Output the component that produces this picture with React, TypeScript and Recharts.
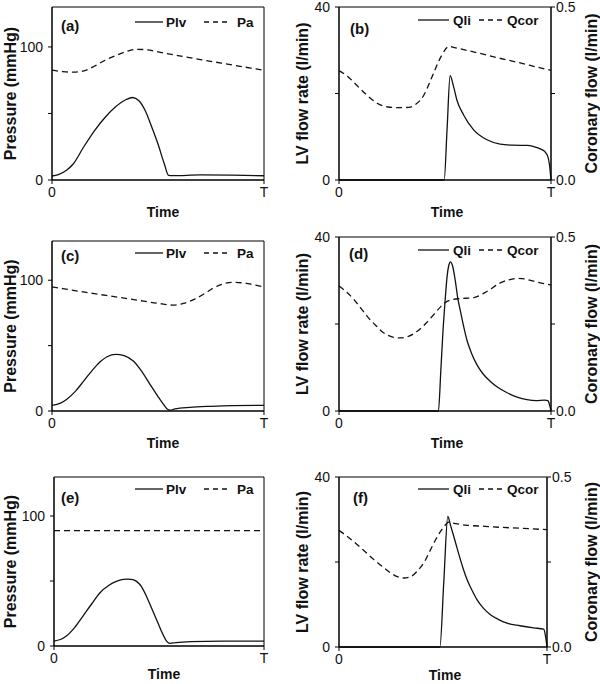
import { LineChart, Line, XAxis, YAxis, Legend, ReferenceArea } from "recharts";

type Pt = [number, number];

// time is normalised: 0 .. T (=1)
const X_TICKS = [0, 1];
const P_TICKS = [0, 50, 100];
const QLI_TICKS = [0, 20, 40];
const QCOR_TICKS = [0, 0.25, 0.5];

// (a)
const PLV_A: Pt[] = [[0, 3], [0.03, 4], [0.07, 7.5], [0.1, 12], [0.15, 25], [0.2, 37], [0.25, 47], [0.3, 55], [0.35, 60.5], [0.38, 62], [0.41, 59.5], [0.44, 52], [0.47, 40], [0.5, 27], [0.53, 12], [0.55, 3.5], [0.57, 3.3], [0.7, 3.8], [0.85, 3.6], [1, 3.2]];
const PA_A: Pt[] = [[0, 82.5], [0.05, 81.5], [0.1, 81], [0.15, 82], [0.2, 85.5], [0.25, 90], [0.3, 93.5], [0.35, 96.5], [0.4, 98.2], [0.45, 97.8], [0.5, 96.3], [0.6, 93.3], [0.7, 90.5], [0.8, 87.8], [0.9, 85.1], [1, 82.4]];

// (b)
const QLI_B: Pt[] = [[0, 0], [0.496, 0], [0.51, 12], [0.524, 24.1], [0.54, 21.7], [0.556, 18.5], [0.587, 15.1], [0.635, 11.6], [0.698, 9.3], [0.76, 8.3], [0.82, 8.05], [0.887, 8], [0.92, 7.7], [0.95, 7.2], [0.97, 6.6], [0.985, 5.4], [0.993, 3.5], [1, 0]];
const QCOR_B: Pt[] = [[0, 0.316], [0.04, 0.3], [0.08, 0.276], [0.13, 0.246], [0.18, 0.222], [0.23, 0.211], [0.28, 0.209], [0.33, 0.21], [0.36, 0.218], [0.4, 0.245], [0.44, 0.3], [0.48, 0.355], [0.52, 0.386], [0.55, 0.382], [0.65, 0.368], [0.75, 0.353], [0.85, 0.339], [0.95, 0.324], [1, 0.317]];

// (c)
const PLV_C: Pt[] = [[0, 4.3], [0.04, 6], [0.07, 9], [0.11, 15], [0.15, 23], [0.2, 33], [0.23, 38], [0.26, 41.5], [0.3, 43.3], [0.34, 42.3], [0.385, 38], [0.42, 31], [0.46, 21], [0.5, 11], [0.526, 5], [0.545, 1.3], [0.556, 0.6], [0.58, 1.6], [0.65, 2.8], [0.75, 3.6], [0.85, 4.1], [1, 4.3]];
const PA_C: Pt[] = [[0, 94.9], [0.1, 92.3], [0.2, 89.7], [0.3, 87.3], [0.4, 84.8], [0.5, 82.3], [0.57, 81], [0.62, 82.3], [0.67, 85.3], [0.72, 89.8], [0.76, 94], [0.8, 96.8], [0.85, 98.4], [0.9, 98], [0.95, 96.6], [1, 94.9]];

// (d)
const QLI_D: Pt[] = [[0, 0], [0.469, 0], [0.48, 9], [0.49, 18], [0.5, 25], [0.51, 31], [0.518, 33.5], [0.526, 34.3], [0.535, 33.5], [0.549, 29.8], [0.56, 26], [0.573, 22.9], [0.59, 19], [0.604, 16.2], [0.625, 13.3], [0.651, 10.6], [0.68, 8.5], [0.714, 6.8], [0.75, 5.4], [0.793, 4.2], [0.84, 3.2], [0.887, 2.6], [0.93, 2.4], [0.97, 2.5], [0.985, 2.4], [0.993, 1.5], [1, 0]];
const QCOR_D: Pt[] = [[0, 0.359], [0.035, 0.342], [0.071, 0.32], [0.1, 0.298], [0.133, 0.272], [0.17, 0.248], [0.212, 0.224], [0.25, 0.213], [0.29, 0.21], [0.33, 0.215], [0.369, 0.229], [0.41, 0.252], [0.447, 0.277], [0.48, 0.3], [0.51, 0.315], [0.54, 0.321], [0.573, 0.323], [0.636, 0.326], [0.699, 0.344], [0.761, 0.368], [0.8, 0.377], [0.84, 0.381], [0.88, 0.379], [0.918, 0.373], [0.96, 0.367], [1, 0.362]];

// (e)
const PLV_E: Pt[] = [[0, 3.8], [0.03, 5], [0.059, 7.7], [0.1, 14.5], [0.138, 23], [0.18, 32.5], [0.218, 40.8], [0.26, 46.5], [0.297, 49.7], [0.33, 51.2], [0.353, 51.5], [0.375, 51], [0.393, 49.7], [0.415, 46], [0.44, 38.3], [0.465, 29], [0.488, 20.4], [0.51, 12], [0.536, 3.8], [0.552, 2], [0.58, 2.6], [0.65, 3.4], [0.8, 3.8], [1, 3.8]];
const PA_E: Pt[] = [[0, 88.8], [1, 88.8]];

// (f)
const QLI_F: Pt[] = [[0, 0], [0.485, 0], [0.504, 15.5], [0.523, 30.7], [0.537, 28.5], [0.552, 26], [0.568, 23.2], [0.584, 20.5], [0.6, 18], [0.616, 15.8], [0.64, 13.3], [0.664, 11.1], [0.695, 9.1], [0.728, 7.6], [0.77, 6.4], [0.808, 5.6], [0.87, 5], [0.936, 4.5], [0.984, 4.2], [0.993, 2.5], [1, 0]];
const QCOR_F: Pt[] = [[0, 0.343], [0.04, 0.325], [0.088, 0.301], [0.13, 0.278], [0.168, 0.257], [0.21, 0.236], [0.248, 0.218], [0.28, 0.207], [0.312, 0.203], [0.345, 0.207], [0.376, 0.223], [0.41, 0.25], [0.44, 0.286], [0.465, 0.316], [0.488, 0.34], [0.51, 0.358], [0.528, 0.367], [0.56, 0.363], [0.616, 0.358], [0.7, 0.355], [0.776, 0.352], [0.88, 0.349], [1, 0.345]];

const FONT = "'Liberation Sans', Arial, Helvetica, sans-serif";
const INK = "#111";
const DASH = "6 4";

const rows = (pts: Pt[]) => pts.map(([t, v]) => ({ t, v }));

const tickStyle = { fontSize: 14, fill: INK, fontFamily: FONT };
const axisTitle = { fontSize: 16, fontWeight: 700, fill: INK, fontFamily: FONT, textAnchor: "middle" as const };

const fmtX = (v: number) => (v === 0 ? "0" : "T");

type Key = {
  tag: string;
  tagX: number;
  tagY: number;
  keyY: number;
  solid: [number, number, number]; // line x1, x2, text x
  dashed: [number, number, number];
  names: [string, string];
};

function keyContent(k: Key, w: number) {
  return () => (
    <svg width={w} height={60} style={{ display: "block", fontFamily: FONT }}>
      <text x={k.tagX} y={k.tagY + 5.5} fontSize={15} fontWeight={700} fill={INK}>
        {k.tag}
      </text>
      <line x1={k.solid[0]} x2={k.solid[1]} y1={k.keyY} y2={k.keyY} stroke={INK} strokeWidth={1.3} />
      <text x={k.solid[2]} y={k.keyY + 5} fontSize={13.5} fontWeight={700} fill={INK}>
        {k.names[0]}
      </text>
      <line x1={k.dashed[0]} x2={k.dashed[1]} y1={k.keyY} y2={k.keyY} stroke={INK} strokeWidth={1.3} strokeDasharray="5 4" />
      <text x={k.dashed[2]} y={k.keyY + 5} fontSize={13.5} fontWeight={700} fill={INK}>
        {k.names[1]}
      </text>
    </svg>
  );
}

type PressureProps = {
  top: number;
  mTop: number;
  mBottom: number;
  xh: number;
  yw: number;
  plv: Pt[];
  pa: Pt[];
  k: Key;
};

function PressurePanel({ top, mTop, mBottom, xh, yw, plv, pa, k }: PressureProps) {
  const W = 270;
  return (
    <div style={{ position: "absolute", left: 0, top, width: W, height: 228 }}>
      <LineChart width={W} height={228} margin={{ top: mTop, right: 6, bottom: mBottom, left: 0 }}>
        <XAxis
          dataKey="t"
          type="number"
          domain={[0, 1]}
          ticks={X_TICKS}
          tickFormatter={fmtX}
          height={xh}
          tickSize={4}
          tickMargin={3}
          tick={tickStyle}
          stroke="#000"
          label={{ value: "Time", position: "insideBottom", offset: 0, dx: 5, style: { ...axisTitle, fontSize: 14 } }}
        />
        <YAxis
          type="number"
          domain={[0, 130]}
          ticks={P_TICKS}
          interval={0}
          width={yw}
          tickSize={4}
          tickMargin={5}
          tick={tickStyle}
          stroke="#000"
          tickFormatter={(v: number) => (v === 50 ? "" : String(v))}
          label={{ value: "Pressure (mmHg)", angle: -90, position: "insideLeft", offset: 10, style: axisTitle }}
        />
        <ReferenceArea x1={0} x2={1} y1={0} y2={130} fill="none" stroke="#000" strokeWidth={1} />
        <Line data={rows(pa)} dataKey="v" type="monotone" stroke={INK} strokeWidth={1.3} strokeDasharray={DASH} dot={false} isAnimationActive={false} />
        <Line data={rows(plv)} dataKey="v" type="monotone" stroke={INK} strokeWidth={1.3} dot={false} isAnimationActive={false} />
        <Legend verticalAlign="middle" layout="horizontal" wrapperStyle={{ left: 0, top: 0, width: W, height: 60 }} content={keyContent(k, W)} />
      </LineChart>
    </div>
  );
}

type FlowProps = {
  top: number;
  mTop: number;
  mBottom: number;
  xh: number;
  rw: number;
  qli: Pt[];
  qcor: Pt[];
  k: Key;
};

function FlowPanel({ top, mTop, mBottom, xh, rw, qli, qcor, k }: FlowProps) {
  const W = 330;
  return (
    <div style={{ position: "absolute", left: 270, top, width: W, height: 228 }}>
      <LineChart width={W} height={228} margin={{ top: mTop, right: 0, bottom: mBottom, left: 0 }}>
        <XAxis
          dataKey="t"
          type="number"
          domain={[0, 1]}
          ticks={X_TICKS}
          tickFormatter={fmtX}
          height={xh}
          tickSize={4}
          tickMargin={3}
          tick={tickStyle}
          stroke="#000"
          label={{ value: "Time", position: "insideBottom", offset: 0, dx: 2, style: { ...axisTitle, fontSize: 14 } }}
        />
        <YAxis
          yAxisId="l"
          type="number"
          domain={[0, 40]}
          ticks={QLI_TICKS}
          interval={0}
          width={69}
          tickSize={4}
          tickMargin={5}
          tick={tickStyle}
          stroke="#000"
          tickFormatter={(v: number) => (v === 20 ? "" : String(v))}
          label={{ value: "LV flow rate (l/min)", angle: -90, position: "insideLeft", offset: 32, style: axisTitle }}
        />
        <YAxis
          yAxisId="r"
          orientation="right"
          type="number"
          domain={[0, 0.5]}
          ticks={QCOR_TICKS}
          interval={0}
          width={rw}
          tickSize={4}
          tickMargin={1}
          tick={{ ...tickStyle, textAnchor: "start" }}
          stroke="#000"
          tickFormatter={(v: number) => (v === 0.25 ? "" : v.toFixed(1))}
          label={{ value: "Coronary flow  (l/min)", angle: -90, position: "insideRight", offset: 9, style: axisTitle }}
        />
        <ReferenceArea yAxisId="l" x1={0} x2={1} y1={0} y2={40} fill="none" stroke="#000" strokeWidth={1} />
        <Line yAxisId="r" data={rows(qcor)} dataKey="v" type="monotone" stroke={INK} strokeWidth={1.3} strokeDasharray={DASH} dot={false} isAnimationActive={false} />
        <Line yAxisId="l" data={rows(qli)} dataKey="v" type="monotone" stroke={INK} strokeWidth={1.3} dot={false} isAnimationActive={false} />
        <Legend verticalAlign="middle" layout="horizontal" wrapperStyle={{ left: 0, top: 0, width: W, height: 60 }} content={keyContent(k, W)} />
      </LineChart>
    </div>
  );
}

const pKey = (tag: string, tagY: number, keyY: number): Key => ({
  tag, tagX: 61, tagY, keyY, solid: [135, 163, 166], dashed: [204, 231, 237], names: ["Plv", "Pa"],
});
const qKey = (tag: string, tagX: number, tagY: number, keyY: number): Key => ({
  tag, tagX, tagY, keyY, solid: [148, 179, 183], dashed: [209, 232, 237], names: ["Qli", "Qcor"],
});

export default function App() {
  return (
    <div style={{ position: "absolute", left: 0, top: 0, width: 600, height: 684, background: "#fff", fontFamily: FONT }}>
      <PressurePanel top={0} mTop={7} mBottom={11} xh={37} yw={52} plv={PLV_A} pa={PA_A} k={pKey("(a)", 25, 22)} />
      <FlowPanel top={0} mTop={7} mBottom={11} xh={37} rw={49} qli={QLI_B} qcor={QCOR_B} k={qKey("(b)", 80, 28, 20)} />
      <PressurePanel top={228} mTop={13} mBottom={8} xh={37} yw={52} plv={PLV_C} pa={PA_C} k={pKey("(c)", 27, 25)} />
      <FlowPanel top={228} mTop={9} mBottom={8} xh={37} rw={49} qli={QLI_D} qcor={QCOR_D} k={qKey("(d)", 79, 25, 22)} />
      <PressurePanel top={456} mTop={21} mBottom={5} xh={33} yw={54} plv={PLV_E} pa={PA_E} k={pKey("(e)", 41, 33)} />
      <FlowPanel top={456} mTop={21} mBottom={4} xh={33} rw={53} qli={QLI_F} qcor={QCOR_F} k={qKey("(f)", 83, 41, 33)} />
    </div>
  );
}
